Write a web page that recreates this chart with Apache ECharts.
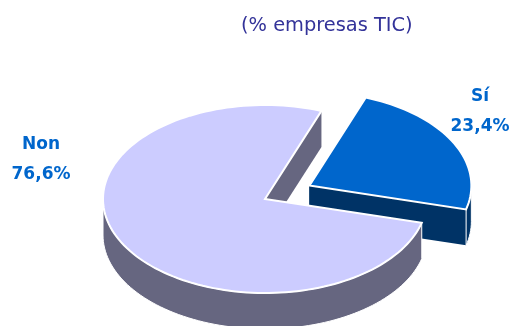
<!DOCTYPE html>
<html>
<head>
<meta charset="utf-8">
<style>html,body{margin:0;padding:0;background:#fff}#chart{width:511px;height:326px}</style>
<script src="https://cdn.jsdelivr.net/npm/echarts@6/dist/echarts.min.js"></script>
</head>
<body>
<div id="chart"></div>
<script>
const titleText = '(% empresas TIC)'
const categories = ['Sí', 'Non']
const percents = [23.4, 76.6]
const valueLabels = ['23,4%', '76,6%']

// colores de cada porción: cara superior y pared lateral
const topColors = ['#0066CC', '#CCCCFF']
const wallColors = ['#003366', '#666680']
const labelPos = [[480, 112], [41, 160]]

// geometría de la tarta 3D
const cx = 265
const cy = 199
const rx = 162
const ry = 94
const depth = 36
const explode = [50, 0]
const startAngle = -69.6

const toRad = d => d * Math.PI / 180

function arcPoints(ox, oy, a0, a1, dy) {
  const pts = []
  const steps = Math.max(2, Math.ceil(Math.abs(a1 - a0) / 2))
  for (let i = 0; i <= steps; i++) {
    const a = toRad(a0 + (a1 - a0) * i / steps)
    pts.push([ox + rx * Math.cos(a), oy + ry * Math.sin(a) + dy])
  }
  return pts
}

const chart = echarts.init(document.getElementById('chart'), null, { renderer: 'canvas' })

chart.setOption({
  animation: false,
  title: {
    text: titleText,
    left: 236,
    top: 11,
    textStyle: {
      fontFamily: 'DejaVu Sans',
      fontSize: 19.4,
      fontWeight: 'normal',
      color: '#333399'
    }
  },
  series: [{
    type: 'custom',
    coordinateSystem: 'none',
    silent: true,
    data: percents.map((v, i) => ({ name: categories[i], value: v })),
    renderItem: (params, api) => {
      const i = params.dataIndex
      let a0 = startAngle
      for (let k = 0; k < i; k++) a0 += percents[k] * 3.6
      const a1 = a0 + api.value(0) * 3.6
      const mid = toRad((a0 + a1) / 2)
      const ox = cx + explode[i] * Math.cos(mid)
      const oy = cy + explode[i] * Math.sin(mid) * ry / rx

      const wallStyle = { fill: wallColors[i], stroke: '#fff', lineWidth: 1 }
      const children = []

      // paredes de los cortes
      ;[a0, a1].forEach(a => {
        const p = arcPoints(ox, oy, a, a, 0)[0]
        children.push({
          type: 'polygon',
          shape: { points: [[ox, oy], p, [p[0], p[1] + depth], [ox, oy + depth]] },
          style: { fill: wallColors[i] }
        })
      })

      // pared exterior: sólo la parte frontal (0-180 grados)
      for (let turn = -360; turn <= 360; turn += 360) {
        const from = Math.max(a0, turn)
        const to = Math.min(a1, turn + 180)
        if (to > from) {
          const upper = arcPoints(ox, oy, from, to, 0)
          const lower = arcPoints(ox, oy, from, to, depth).reverse()
          children.push({
            type: 'polygon',
            shape: { points: upper.concat(lower) },
            style: wallStyle
          })
        }
      }

      // cara superior
      children.push({
        type: 'polygon',
        shape: { points: [[ox, oy]].concat(arcPoints(ox, oy, a0, a1, 0)) },
        style: { fill: topColors[i], stroke: '#fff', lineWidth: 2, lineJoin: 'miter' }
      })

      // etiqueta
      children.push({
        type: 'text',
        style: {
          x: labelPos[i][0],
          y: labelPos[i][1],
          text: categories[i] + '\n' + valueLabels[i],
          fill: '#0066CC',
          font: 'bold 17px "DejaVu Sans"',
          lineHeight: 30,
          align: 'center',
          verticalAlign: 'middle'
        }
      })

      return { type: 'group', children }
    }
  }]
})
</script>
</body>
</html>
